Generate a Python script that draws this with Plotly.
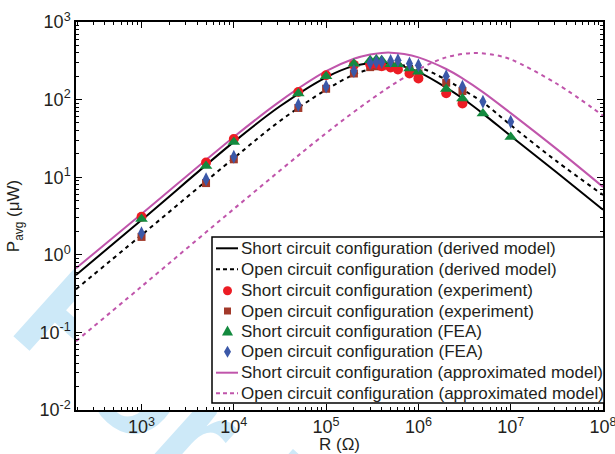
import plotly.graph_objects as go

# ---- data ----
R_model = [195, 1e3, 1e4, 3.16e4, 1e5, 2e5, 3e5, 4e5, 5e5, 7e5, 1e6, 2e6, 3e6, 5e6, 1e7, 3.16e7, 1e8]
short_derived = [0.55, 2.8, 28.5, 82, 194, 272, 295, 298, 292, 266, 228, 143, 104, 66, 34, 11.5, 3.8]
open_derived = [0.36, 1.8, 17.6, 53, 134, 210, 246, 266, 274, 276, 262, 180, 135, 92, 47, 16, 5.9]
short_approx = [0.67, 3.35, 33, 95, 232, 336, 382, 400, 403, 387, 350, 248, 188, 125, 67, 23, 7.5]

R_open_approx = [195, 1e3, 1e4, 1e5, 3.16e5, 6.3e5, 1e6, 2e6, 4e6, 7e6, 1e7, 3.16e7, 1e8]
open_approx = [0.077, 0.39, 3.9, 37, 103, 178, 245, 350, 398, 372, 330, 160, 62]

R_exp = [1e3, 5e3, 1e4, 5e4, 1e5, 2e5, 3e5, 3.5e5, 4e5, 5e5, 6e5, 8e5, 1e6, 2e6, 3e6]
short_exp = [3.1, 15.5, 31, 125, 206, 280, 285, 290, 269, 259, 244, 217, 187, 121, 89]
open_exp = [1.7, 8.4, 17, 78, 138, 217, 262, 269, 269, 274, 264, 239, 217, 165, 129]

R_fea = [1e3, 5e3, 1e4, 5e4, 1e5, 2e5, 3e5, 3.5e5, 4e5, 5e5, 6e5, 8e5, 1e6, 2e6, 3e6, 5e6, 1e7]
short_fea = [2.9, 13.9, 28.5, 120, 200, 290, 322, 329, 322, 286, 286, 252, 228, 137, 103, 66, 33]
open_fea = [1.9, 9.4, 18.3, 85, 148, 234, 297, 306, 306, 315, 322, 292, 277, 200, 146, 94, 52]

tick_vals_x = [1e3, 1e4, 1e5, 1e6, 1e7, 1e8]
tick_text_x = ["10<sup>3</sup>", "10<sup>4</sup>", "10<sup>5</sup>", "10<sup>6</sup>", "10<sup>7</sup>", "10<sup>8</sup>"]
tick_vals_y = [1e-2, 1e-1, 1, 10, 100, 1000]
tick_text_y = ["10<sup>-2</sup>", "10<sup>-1</sup>", "10<sup>0</sup>", "10<sup>1</sup>", "10<sup>2</sup>", "10<sup>3</sup>"]

legend_labels = [
    "Short circuit configuration (derived model)",
    "Open circuit configuration (derived model)",
    "Short circuit configuration (experiment)",
    "Open circuit configuration (experiment)",
    "Short circuit configuration (FEA)",
    "Open circuit configuration (FEA)",
    "Short circuit configuration (approximated model)",
    "Open circuit configuration (approximated model)",
]

MAG = "#c055ab"
RED = "#ec1c24"
BROWN = "#a2392a"
GREEN = "#138a3e"
BLUE = "#3b58a8"
FONT = "Arial, Liberation Sans, Helvetica, sans-serif"
TXT = "#231f20"

W, H = 615, 454
L_M, R_M, T_M, B_M = 76, 12, 22, 44
PW, PH = W - L_M - R_M, H - T_M - B_M


def px(x):
    return (x - L_M) / PW


def py(y):
    return (H - B_M - y) / PH


fig = go.Figure()


def line(x, y, name, color, dash):
    fig.add_trace(go.Scatter(x=x, y=y, mode="lines", name=name, showlegend=False,
                             line=dict(color=color, width=2, dash=dash, shape="spline", smoothing=1.0)))


def pts(x, y, name, color, symbol, size):
    fig.add_trace(go.Scatter(x=x, y=y, mode="markers", name=name, showlegend=False,
                             marker=dict(color=color, symbol=symbol, size=size, line=dict(width=0))))


line(R_open_approx, open_approx, legend_labels[7], MAG, "4px,4px")
line(R_model, short_approx, legend_labels[6], MAG, "solid")
line(R_model, open_derived, legend_labels[1], "black", "4px,4px")
line(R_model, short_derived, legend_labels[0], "black", "solid")
pts(R_exp, open_exp, legend_labels[3], BROWN, "square", 8)
pts(R_exp, short_exp, legend_labels[2], RED, "circle", 10)
pts(R_fea, short_fea, legend_labels[4], GREEN, "triangle-up", 11)
pts(R_fea, open_fea, legend_labels[5], BLUE, "diamond-tall", 10)

axis_common = dict(
    type="log", tickmode="array",
    showline=True, linecolor="black", linewidth=1.5, mirror="allticks",
    ticks="inside", ticklen=6, tickwidth=1, tickcolor="black",
    minor=dict(ticks="inside", ticklen=3, tickcolor="black", tickwidth=1, dtick="D1"),
    showgrid=False, zeroline=False, automargin=False, ticklabeloverflow="allow",
    tickfont=dict(family=FONT, size=18, color=TXT),
)

fig.update_xaxes(range=[2.29, 8], tickvals=tick_vals_x, ticktext=tick_text_x,
                 title=dict(text="R (Ω)", font=dict(family=FONT, size=17, color=TXT)),
                 **axis_common)
fig.update_yaxes(range=[-2, 3], tickvals=tick_vals_y, ticktext=tick_text_y,
                 title=dict(text="P<sub>avg</sub> (μW)", font=dict(family=FONT, size=17, color=TXT)),
                 **axis_common)

shapes = []
# watermark (drawn below everything, hidden by the white plot area)
shapes.append(dict(type="line", xref="paper", yref="paper", layer="below",
                   x0=px(-8), y0=py(345), x1=px(652), y1=py(939),
                   line=dict(width=0, color="rgba(0,0,0,0)"),
                   label=dict(text="For Peer Review", textposition="start",
                              font=dict(family=FONT, size=150, color="#cde9f8", weight="bold"))))
shapes.append(dict(type="rect", xref="paper", yref="paper", layer="below",
                   x0=0, x1=1, y0=0, y1=1, fillcolor="white", line=dict(width=0)))

# custom legend box
shapes.append(dict(type="rect", xref="paper", yref="paper", layer="above",
                   x0=px(212), x1=px(604), y0=py(403), y1=py(237),
                   fillcolor="white", line=dict(color="black", width=1.5)))

row_y = [248.3, 269.3, 290.7, 311, 331, 351.7, 372.7, 393.3]
sym_x = 227.5

annotations = []
for lab, yy in zip(legend_labels, row_y):
    annotations.append(dict(text=lab, xref="paper", yref="paper", x=px(240), y=py(yy),
                            xanchor="left", yanchor="middle", showarrow=False, borderpad=0,
                            font=dict(family=FONT, size=17, color=TXT)))

# line samples
for idx, color, dash in [(0, "black", "solid"), (1, "black", "dot"), (6, MAG, "solid"), (7, MAG, "dot")]:
    shapes.append(dict(type="line", xref="paper", yref="paper", layer="above",
                       x0=px(216), x1=px(238), y0=py(row_y[idx]), y1=py(row_y[idx]),
                       line=dict(color=color, width=2, dash="4px,3px" if dash == "dot" else "solid")))


def sym(idx, path=None, kind="path", color="black", r=4):
    d = dict(xref="paper", yref="paper", layer="above", xsizemode="pixel", ysizemode="pixel",
             xanchor=px(sym_x), yanchor=py(row_y[idx]), fillcolor=color, line=dict(width=0))
    if kind == "circle":
        d.update(type="circle", x0=-r, x1=r, y0=-r, y1=r)
    elif kind == "rect":
        d.update(type="rect", x0=-r, x1=r, y0=-r, y1=r)
    else:
        d.update(type="path", path=path)
    shapes.append(d)


sym(2, kind="circle", color=RED, r=4.5)
sym(3, kind="rect", color=BROWN, r=3.5)
sym(4, path="M-5.5,-4.5 L5.5,-4.5 L0,5.5 Z", color=GREEN)
sym(5, path="M0,-6 L3.5,0 L0,6 L-3.5,0 Z", color=BLUE)

fig.update_layout(
    width=W, height=H,
    margin=dict(l=L_M, r=R_M, t=T_M, b=B_M, autoexpand=False),
    plot_bgcolor="rgba(0,0,0,0)", paper_bgcolor="white",
    showlegend=False,
    shapes=shapes, annotations=annotations,
)

fig.write_html("out.html")
